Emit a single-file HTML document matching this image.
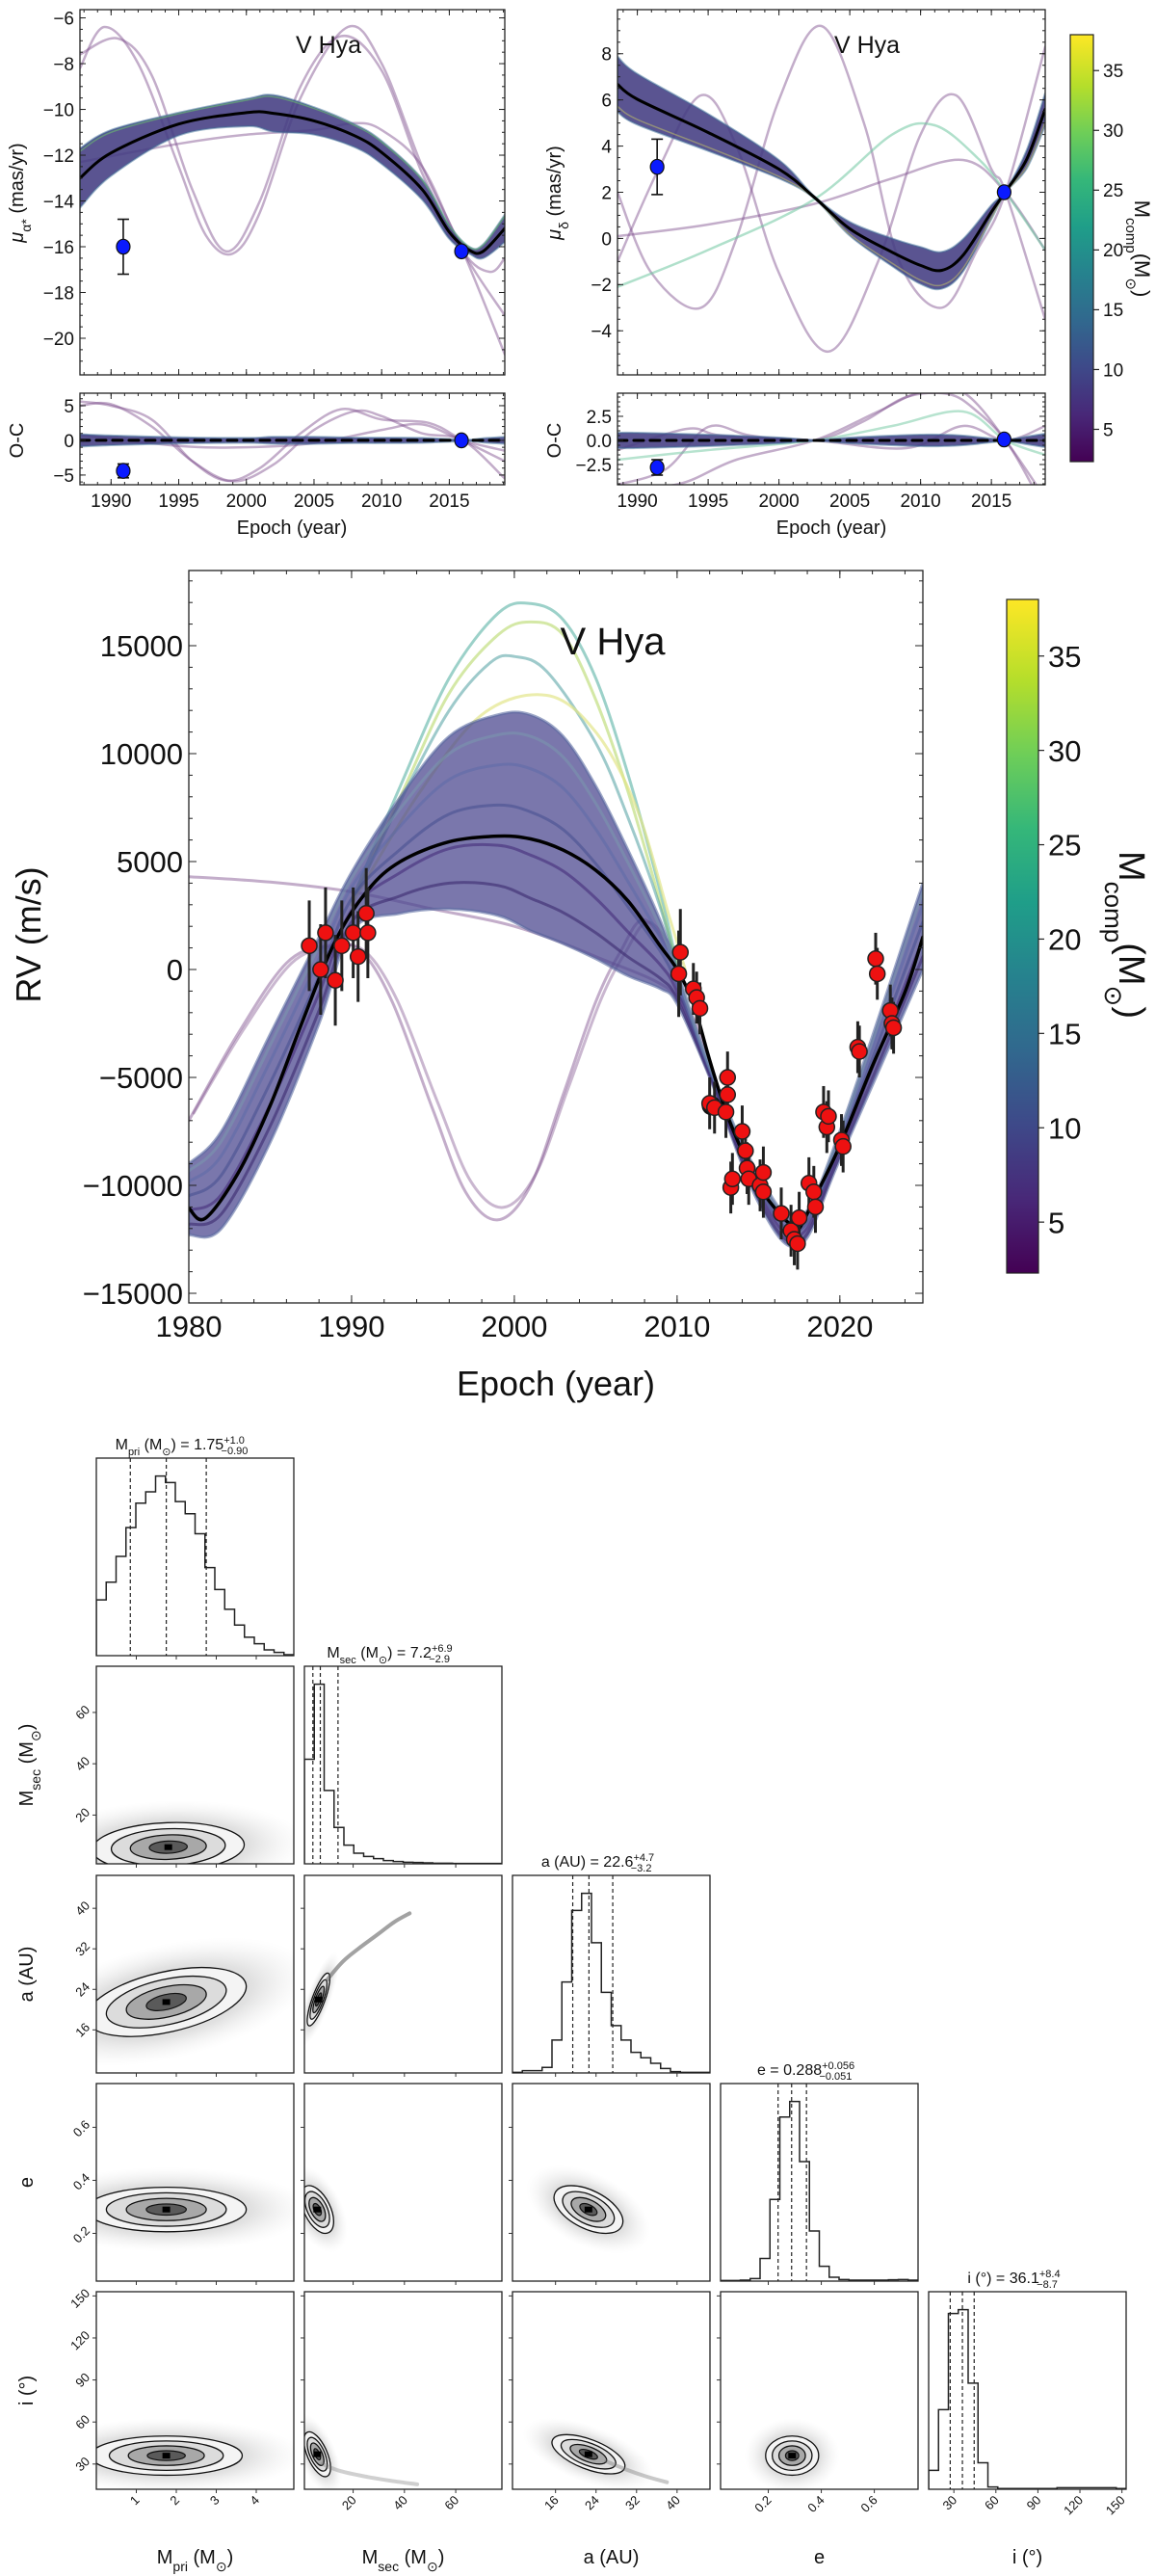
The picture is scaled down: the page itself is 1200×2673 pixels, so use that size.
<!DOCTYPE html>
<html><head><meta charset="utf-8"><title>V Hya orbit fit</title>
<style>
html,body{margin:0;padding:0;background:#fff;}
svg{display:block;font-family:"Liberation Sans",sans-serif;}
</style></head>
<body>
<svg id="fig" width="1200" height="2673" viewBox="0 0 1200 2673" xmlns="http://www.w3.org/2000/svg">
<defs>
<linearGradient id="viridis" x1="0" y1="1" x2="0" y2="0">
<stop offset="0" stop-color="#440154"/><stop offset="0.11" stop-color="#482878"/><stop offset="0.22" stop-color="#3e4989"/><stop offset="0.33" stop-color="#31688e"/><stop offset="0.44" stop-color="#26828e"/><stop offset="0.55" stop-color="#1f9e89"/><stop offset="0.66" stop-color="#35b779"/><stop offset="0.77" stop-color="#6ece58"/><stop offset="0.88" stop-color="#b5de2b"/><stop offset="1" stop-color="#fde725"/>
</linearGradient>
<radialGradient id="cloud"><stop offset="0" stop-color="#888" stop-opacity="0.6"/><stop offset="0.6" stop-color="#aaa" stop-opacity="0.35"/><stop offset="1" stop-color="#ddd" stop-opacity="0"/></radialGradient>
</defs>
</svg>
<script>
// ---------------- DATA: proper motion RA ----------------
const pmraYears=[1987.7,1990,1995,2000,2002,2005,2008,2010,2013,2015,2016.5,2017.5,2019.1];
const pmraBest=[-13.0,-11.9,-10.64,-10.14,-10.17,-10.5,-11.15,-11.88,-13.5,-15.36,-16.16,-16.2,-15.2];
const pmraSpread=[1.3,1.0,0.5,0.6,0.8,0.6,0.5,0.5,0.45,0.3,0.15,0.3,0.6];
const pmraOut1=[[1987.7,-8.2],[1989.5,-6.4],[1992,-8],[1995,-12.5],[1997,-15.5],[1999,-16.3],[2001,-14.5],[2004,-9.5],[2007.5,-6.4],[2010,-8],[2013,-12.5],[2016,-16.2],[2019.1,-20.7]];
const pmraOut2=[[1987.7,-7.6],[1990.5,-6.9],[1993,-8.5],[1996,-13.5],[1998.5,-16.2],[2001,-14],[2004,-9],[2007,-6.8],[2010,-8.3],[2013,-12.8],[2016,-16.2],[2018,-17.1],[2019.1,-16.5]];
const pmraOut3=[[1987.7,-12.3],[1995,-11.5],[2000,-11.1],[2005,-10.9],[2008,-10.6],[2010,-10.9],[2013,-12.5],[2016,-16.2],[2019.1,-19]];
const pmraHip=[1990.9,-16.0,1.2];
const pmraGaia=[2015.9,-16.2,0.05];
const ocraSpread=[0.9,0.7,0.45,0.35,0.5,0.5,0.4,0.4,0.35,0.2,0.1,0.3,0.5];
const ocraOut1=[[1987.7,5],[1990,5.2],[1993,2],[1996,-3],[1999,-5.9],[2002,-3.5],[2005,1.5],[2008,4.2],[2010,3.5],[2013,1],[2016,0],[2019.1,-5.5]];
const ocraOut2=[[1987.7,5.6],[1990,5],[1993,3],[1996,-3],[1998.5,-5.8],[2001,-4],[2004,1],[2007,4.5],[2010,3],[2013.5,2.5],[2016,0],[2019.1,-3]];
const ocraOut3=[[1987.7,0.8],[1995,-0.8],[2000,-1],[2005,-0.4],[2010,1.5],[2013,2.3],[2016,0],[2019.1,-1.5]];
const ocraHip=[1990.9,-4.4,1.0];
const ocraGaia=[2015.9,0.0,0.05];
// ---------------- DATA: proper motion Dec ----------------
const pmdecYears=[1988.6,1990,1995,2000,2002.5,2005,2008,2010,2011.5,2013,2015,2016,2017.5,2018.8];
const pmdecBest=[6.68,6.03,4.59,3.0,1.78,0.42,-0.6,-1.17,-1.38,-0.73,1.14,2.03,3.44,5.6];
const pmdecSpread=[1.2,1.1,0.8,0.4,0.05,0.3,0.6,0.8,0.8,0.7,0.3,0.05,0.4,0.7];
const pmdecOut1=[[1988.6,2],[1991,-1.5],[1994.5,-3],[1997,0],[2000,6],[2003,9.2],[2006,5],[2008.5,-1],[2011.5,-3],[2014,-0.5],[2016,2],[2018.8,8.3]];
const pmdecOut2=[[1988.6,-1],[1991.5,3],[1994.5,6.2],[1997,4],[2000,-1.5],[2003.5,-4.9],[2007,-1],[2010,4.5],[2012.5,6.2],[2015,3],[2016,2],[2018.8,-3.5]];
const pmdecOut3=[[1988.6,0.1],[1995,0.6],[2002.5,1.5],[2008,2.6],[2013,3.4],[2016,2],[2018.8,-0.5]];
const pmdecOut4=[[1988.6,-2.1],[1995,-0.5],[2002.5,1.7],[2008,4.5],[2011,4.9],[2014,3.5],[2016,2],[2018.8,-0.5]];
const pmdecHip=[1991.4,3.1,1.2];
const pmdecGaia=[2015.9,2.0,0.05];
const ocdecSpread=[0.8,0.8,0.6,0.3,0.05,0.3,0.5,0.6,0.6,0.5,0.2,0.05,0.4,0.7];
const ocdecOut1=[[1988.6,-4.6],[1992,-3],[1995,1.4],[1998,0.5],[2002.5,0],[2006,2],[2009,4.5],[2012,4.8],[2014,3],[2016,0],[2018.8,-6]];
const ocdecOut2=[[1988.6,-5],[1993,-4.5],[1997,-2],[2002.5,0],[2007,3],[2010,5],[2013,5],[2016,0],[2018,-5]];
const ocdecOut3=[[1988.6,-2],[1995,-1],[2002.5,0],[2008,1.5],[2013,3],[2016,0],[2018.8,-1.5]];
const ocdecOut4=[[1988.6,-1],[1993.5,1.2],[1996,0.5],[2002.5,0],[2009,-0.8],[2013,1.5],[2016,0],[2018.8,1.5]];
const ocdecHip=[1991.4,-2.8,0.8];
const ocdecGaia=[2015.9,0.1,0.05];
// ---------------- DATA: RV ----------------
const rvBestYears=[1980,1981,1983,1985,1987,1989,1991,1993,1996,1999,2001,2003,2005,2007,2009,2010,2011,2012,2013,2014,2015,2016,2017,2017.5,2018.5,2020,2022,2024,2025.1];
const rvBest=[-11050,-11530,-9470,-6300,-2370,1320,3680,5000,5920,6180,6050,5530,4600,3160,1050,0,-1580,-4200,-6580,-8420,-10000,-11050,-11840,-12000,-10500,-8160,-4470,-1050,1500];
const rvEnvYears=[1980,1982,1985,1988,1990,1993,1996,1999,2001,2003,2005,2007,2009,2010,2012,2015,2017.5,2020,2025.1];
const rvUpper=[-9000,-7500,-3000,1500,4500,8000,10800,11800,11800,10800,8500,5500,2200,0,-4500,-9500,-11500,-7500,4000];
const rvLower=[-12300,-12000,-8000,-2500,1800,2600,2800,2500,1800,1200,500,-300,-900,-1600,-5000,-10800,-12800,-8800,0];
const rvHi1=[[1990,3200],[1993,8500],[1996,13500],[1999,16500],[2001,16950],[2003,16200],[2005,13500],[2007,9000],[2009,3500],[2010,200]];
const rvHi2=[[1990,3100],[1993,8000],[1996,12800],[1999,15500],[2001,16100],[2003,15500],[2005,12500],[2007,8200],[2009,3000],[2010,100]];
const rvHi3=[[1990,3000],[1993,7800],[1996,12000],[1998.5,14200],[2000,14500],[2002,13800],[2005,10500],[2007,7000],[2009,2800],[2010,0]];
const rvHi4=[[1990,3000],[1994,8000],[1998,11800],[2002,12700],[2005,11000],[2007.5,7500],[2009.5,2500],[2010.5,0]];
const rvLowWave=[[1980,-7000],[1983,-3000],[1986,300],[1988.5,1100],[1990.5,900],[1992.5,-1500],[1995,-6500],[1997,-10300],[1999,-11600],[2001,-10000],[2003,-5800],[2005,-1500],[2006.5,800],[2008,2300],[2010,300]];
const rvFlat=[[1980,4300],[1985,4050],[1990,3600],[1995,2800],[2000,2000],[2005,600],[2010,-1200],[2012,-4200]];
const rvEpochs=[1987.4,1988.1,1988.4,1989.0,1989.4,1990.1,1990.4,1990.9,1991.0,2010.1,2010.2,2011.0,2011.2,2011.4,2012.0,2012.3,2013.1,2013.1,2013.0,2013.3,2013.4,2014.0,2014.2,2014.3,2014.4,2015.1,2015.3,2015.3,2016.4,2017.0,2017.2,2017.4,2017.5,2018.1,2018.4,2018.5,2019.0,2019.2,2019.3,2020.1,2020.2,2021.1,2021.2,2022.2,2022.3,2023.1,2023.2,2023.3];
const rvValues=[1100,0,1700,-500,1100,1700,600,2600,1700,-200,800,-900,-1300,-1800,-6200,-6400,-5000,-5800,-6600,-10100,-9700,-7500,-8400,-9200,-9700,-10000,-9400,-10300,-11300,-12100,-12500,-12700,-11500,-9900,-10300,-11000,-6600,-7300,-6800,-7900,-8200,-3600,-3800,500,-200,-1900,-2500,-2700];
const rvErrors=[2100,2100,2100,2100,2100,2100,2100,2100,2100,2000,2000,1200,1200,1200,1200,1200,1200,1200,1200,1200,1200,1200,1200,1200,1200,1200,1200,1200,1200,1200,1200,1200,1200,1200,1200,1200,1200,1200,1200,1200,1200,1200,1200,1200,1200,1200,1200,1200];
// ---------------- DATA: corner ----------------
const cornerParams=["Mpri","Msec","a","e","i"];
const cornerRanges=[[0,4.94],[1,78],[7.5,46.5],[0.02,0.765],[12,153]];
const cornerTicks=[[1,2,3,4],[20,40,60],[16,24,32,40],[0.2,0.4,0.6],[30,60,90,120,150]];
const cornerTickLabels=[["1","2","3","4"],["20","40","60"],["16","24","32","40"],["0.2","0.4","0.6"],["30","60","90","120","150"]];
const histMpri=[173,228,308,397,473,508,557,537,478,440,378,273,205,144,95,57,37,18,10,3];
const histMsec=[325,558,228,113,58,33,23,16,10,7,5,4,3,2,2,1,1,1,1,1];
const histA=[2,7,7,17,102,282,504,557,404,250,147,102,64,47,30,14,4,2,2,2];
const histE=[2,2,3,8,70,253,508,556,370,155,46,12,5,3,3,3,3,4,5,3];
const histI=[25,105,232,237,140,35,3,1,1,1,1,1,1,2,2,2,2,2,2,1];
const quantMpri=[0.85,1.75,2.75];
const quantMsec=[4.3,7.2,14.1];
const quantA=[19.4,22.6,27.3];
const quantE=[0.237,0.288,0.344];
const quantI=[27.4,36.1,44.5];
// 2D panels: [col, row, centerX, centerY, sigmaX, sigmaY, rho]
const pairMpriMsec=[0,1,1.8,7.5,0.95,4.8,0.1];
const pairMpriA=[0,2,1.75,21.5,1.0,3.4,0.45];
const pairMsecA=[1,2,6.5,22,2.2,2.6,0.8];
const pairMpriE=[0,3,1.75,0.29,1.0,0.042,0];
const pairMsecE=[1,3,6,0.29,3.2,0.045,-0.5];
const pairAE=[2,3,22.5,0.29,3.4,0.045,-0.5];
const pairMpriI=[0,4,1.75,36,0.95,7,0];
const pairMsecI=[1,4,6,37,2.6,8,-0.6];
const pairAI=[2,4,22.5,37,3.6,7,-0.6];
const pairEI=[3,4,0.29,36,0.05,7,0];
const ridgeMsecA=[[10,26],[16,29.5],[22,32],[30,35],[36,37.3],[42,39]];
const tailMsecI=[[8,30],[15,25],[25,21],[35,18],[45,15.5]];
const tailAI=[[26,32],[30,26],[34,21],[38,17]];
</script>
<script>
const NS="http://www.w3.org/2000/svg";
const svg=document.getElementById("fig");
const FONT='"Liberation Sans", sans-serif';
function mk(tag,attrs,name,parent){
  const e=document.createElementNS(NS,tag);
  for(const k in attrs)e.setAttribute(k,attrs[k]);
  
  
  (parent||svg).appendChild(e);
  return e;
}
function smooth(p){
  if(p.length<2)return "";
  let d=`M${p[0][0].toFixed(1)},${p[0][1].toFixed(1)}`;
  for(let i=0;i<p.length-1;i++){
    const p0=p[i-1]||p[i],p1=p[i],p2=p[i+1],p3=p[i+2]||p[i+1];
    const c1=[p1[0]+(p2[0]-p0[0])/6,p1[1]+(p2[1]-p0[1])/6];
    const c2=[p2[0]-(p3[0]-p1[0])/6,p2[1]-(p3[1]-p1[1])/6];
    d+=`C${c1[0].toFixed(1)},${c1[1].toFixed(1)} ${c2[0].toFixed(1)},${c2[1].toFixed(1)} ${p2[0].toFixed(1)},${p2[1].toFixed(1)}`;
  }
  return d;
}
let clipN=0;
function panel(x,y,w,h,xd,yd,name){
  const P={x,y,w,h};
  P.X=v=>x+(v-xd[0])/(xd[1]-xd[0])*w;
  P.Y=v=>y+h-(v-yd[0])/(yd[1]-yd[0])*h;
  const id="clip"+(clipN++);
  const cp=mk("clipPath",{id},name+"-clip");
  mk("rect",{x,y,width:w,height:h},name+"-clip-rect",cp);
  P.g=mk("g",{"clip-path":`url(#${id})`},name+"-plot-area");
  P.frame=()=>mk("rect",{x,y,width:w,height:h,fill:"none",stroke:"#222","stroke-width":1.3},name+"-frame");
  return P;
}
function text(x,y,str,size,anchor,name,extra){
  const t=mk("text",Object.assign({x,y,"font-size":size,"text-anchor":anchor||"middle",fill:"#111","font-family":FONT},extra||{}),name);
  t.innerHTML=str;
  return t;
}
function inTicks(P,xd,xMaj,xMin,yMaj,yMin,L,l,name){
  const g=mk("g",{stroke:"#222","stroke-width":1},name+"-ticks");
  const tk=(x1,y1,x2,y2,n)=>mk("line",{x1,y1,x2,y2},n,g);
  xMaj.forEach(t=>{const X=P.X(t);tk(X,P.y+P.h,X,P.y+P.h-L,name+"-x-major-tick");tk(X,P.y,X,P.y+L,name+"-x-major-tick-top");});
  xMin.forEach(t=>{const X=P.X(t);tk(X,P.y+P.h,X,P.y+P.h-l,name+"-x-minor-tick");tk(X,P.y,X,P.y+l,name+"-x-minor-tick-top");});
  yMaj.forEach(t=>{const Y=P.Y(t);tk(P.x,Y,P.x+L,Y,name+"-y-major-tick");tk(P.x+P.w,Y,P.x+P.w-L,Y,name+"-y-major-tick-right");});
  yMin.forEach(t=>{const Y=P.Y(t);tk(P.x,Y,P.x+l,Y,name+"-y-minor-tick");tk(P.x+P.w,Y,P.x+P.w-l,Y,name+"-y-minor-tick-right");});
}
function range(a,b,s){const r=[];for(let v=a;v<=b+1e-9;v+=s)r.push(+v.toFixed(6));return r;}
function band(P,years,center,half,name,fill){
  const up=years.map((t,i)=>[P.X(t),P.Y(center[i]+half[i])]);
  const lo=years.map((t,i)=>[P.X(t),P.Y(center[i]-half[i])]).reverse();
  const d=smooth(up)+"L"+smooth(lo).slice(1)+"Z";
  mk("path",{d,fill:fill||"#433c82","fill-opacity":0.88,stroke:"#3d6f98","stroke-opacity":0.5,"stroke-width":2},name,P.g);
}
function curve(P,pts,color,width,op,name,dash){
  const a={d:smooth(pts.map(q=>[P.X(q[0]),P.Y(q[1])])),fill:"none",stroke:color,"stroke-width":width,"stroke-opacity":op,"stroke-linecap":"round"};
  if(dash)a["stroke-dasharray"]=dash;
  mk("path",a,name,P.g);
}
function errPoint(P,d,r,fill,name,cap){
  const X=P.X(d[0]);
  if(d[2]>0.1){
    mk("line",{x1:X,y1:P.Y(d[1]-d[2]),x2:X,y2:P.Y(d[1]+d[2]),stroke:"#111","stroke-width":1.6},name+"-errorbar",P.g);
    if(cap){mk("line",{x1:X-6,y1:P.Y(d[1]-d[2]),x2:X+6,y2:P.Y(d[1]-d[2]),stroke:"#111","stroke-width":1.6},name+"-cap-low",P.g);
    mk("line",{x1:X-6,y1:P.Y(d[1]+d[2]),x2:X+6,y2:P.Y(d[1]+d[2]),stroke:"#111","stroke-width":1.6},name+"-cap-high",P.g);}
  }
  mk("ellipse",{cx:X,cy:P.Y(d[1]),rx:r,ry:r*1.1,fill,stroke:"#111","stroke-width":1.2},name,P.g);
}
function colorbar(x,y,w,h,fs,name){
  mk("rect",{x,y,width:w,height:h,fill:"url(#viridis)",stroke:"#222","stroke-width":1.2},name);
  const dom=[2.3,38];
  [5,10,15,20,25,30,35].forEach(t=>{
    const Y=y+h-(t-dom[0])/(dom[1]-dom[0])*h;
    mk("line",{x1:x+w,y1:Y,x2:x+w+6,y2:Y,stroke:"#222","stroke-width":1.2},name+"-tick");
    text(x+w+10,Y+fs*0.36,String(t),fs,"start",name+"-tick-label");
  });
}
function yearLabels(P,ticks,fs,name){ticks.forEach(t=>text(P.X(t),P.y+P.h+fs+4,String(t),fs,"middle",name+"-x-tick-label"));}
function valLabels(P,ticks,labels,fs,name){ticks.forEach((t,i)=>text(P.x-6,P.Y(t)+fs*0.36,labels[i],fs,"end",name+"-y-tick-label"));}

const OUTC="#7a4a8a";
// ===== Top left: pmra =====
{
  const xd=[1987.7,2019.1];
  const P=panel(83,10,441,379,xd,[-21.6,-5.64],"pmra-panel");
  curve(P,pmraOut1,OUTC,2.5,0.45,"pmra-outlier-orbit");
  curve(P,pmraOut2,OUTC,2.5,0.45,"pmra-outlier-orbit");
  curve(P,pmraOut3,OUTC,2.5,0.45,"pmra-outlier-orbit");
  band(P,pmraYears,pmraBest,pmraSpread,"pmra-orbit-band");
  curve(P,pmraYears.map((t,i)=>[t,pmraBest[i]+pmraSpread[i]*0.9]),"#6ccf6a",1.5,0.5,"pmra-high-mass-orbit");
  curve(P,pmraYears.map((t,i)=>[t,pmraBest[i]]),"#000",3,1,"pmra-best-orbit");
  errPoint(P,pmraHip,7,"#0a1aff","pmra-hipparcos-point",true);
  errPoint(P,pmraGaia,7,"#0a1aff","pmra-gaia-point",false);
  P.frame();
  inTicks(P,xd,range(1990,2015,5),range(1988,2019,1),range(-20,-6,2),range(-21,-6,0.5),6,3,"pmra");
  valLabels(P,[-20,-18,-16,-14,-12,-10,-8,-6],["−20","−18","−16","−14","−12","−10","−8","−6"],19,"pmra");
  text(341,55,"V Hya",25,"middle","pmra-title");
  text(0,0,'<tspan font-style="italic">μ</tspan><tspan baseline-shift="sub" font-size="14">α*</tspan>  (mas/yr)',20,"middle","pmra-y-axis-title",{transform:"translate(24,200) rotate(-90)"});
  const O=panel(83,408,441,95,xd,[-6.4,6.8],"oc-ra-panel");
  curve(O,ocraOut1,OUTC,2.5,0.45,"oc-ra-outlier");
  curve(O,ocraOut2,OUTC,2.5,0.45,"oc-ra-outlier");
  curve(O,ocraOut3,OUTC,2.5,0.45,"oc-ra-outlier");
  band(O,pmraYears,pmraYears.map(()=>0),ocraSpread,"oc-ra-band");
  curve(O,[[1987.7,0],[2019.1,0]],"#000",3,1,"oc-ra-zero-line","10,7");
  errPoint(O,ocraHip,7,"#0a1aff","oc-ra-hipparcos-point",true);
  errPoint(O,ocraGaia,7,"#0a1aff","oc-ra-gaia-point",false);
  O.frame();
  inTicks(O,xd,range(1990,2015,5),range(1988,2019,1),[-5,0,5],range(-6,6,1),6,3,"oc-ra");
  valLabels(O,[-5,0,5],["−5","0","5"],19,"oc-ra");
  yearLabels(O,[1990,1995,2000,2005,2010,2015],19,"oc-ra");
  text(0,0,"O-C",20,"middle","oc-ra-y-axis-title",{transform:"translate(24,457) rotate(-90)"});
  text(303,554,"Epoch (year)",20,"middle","oc-ra-x-axis-title");
}
// ===== Top right: pmdec =====
{
  const xd=[1988.6,2018.8];
  const P=panel(641,10,444,379,xd,[-5.91,9.91],"pmdec-panel");
  curve(P,pmdecOut1,OUTC,2.5,0.45,"pmdec-outlier-orbit");
  curve(P,pmdecOut2,OUTC,2.5,0.45,"pmdec-outlier-orbit");
  curve(P,pmdecOut3,OUTC,2.5,0.45,"pmdec-outlier-orbit");
  curve(P,pmdecOut4,"#6fc7a0",2.5,0.55,"pmdec-outlier-orbit");
  band(P,pmdecYears,pmdecBest,pmdecSpread,"pmdec-orbit-band");
  curve(P,pmdecYears.map((t,i)=>[t,pmdecBest[i]-pmdecSpread[i]*0.8]),"#b5b56a",1.5,0.6,"pmdec-high-mass-orbit");
  curve(P,pmdecYears.map((t,i)=>[t,pmdecBest[i]]),"#000",3,1,"pmdec-best-orbit");
  errPoint(P,pmdecHip,7,"#0a1aff","pmdec-hipparcos-point",true);
  errPoint(P,pmdecGaia,7,"#0a1aff","pmdec-gaia-point",false);
  P.frame();
  inTicks(P,xd,range(1990,2015,5),range(1989,2018,1),range(-4,8,2),range(-5.5,9.5,0.5),6,3,"pmdec");
  valLabels(P,[-4,-2,0,2,4,6,8],["−4","−2","0","2","4","6","8"],19,"pmdec");
  text(900,55,"V Hya",25,"middle","pmdec-title");
  text(0,0,'<tspan font-style="italic">μ</tspan><tspan baseline-shift="sub" font-size="14">δ</tspan>  (mas/yr)',20,"middle","pmdec-y-axis-title",{transform:"translate(582,200) rotate(-90)"});
  const O=panel(641,408,444,95,xd,[-4.6,4.9],"oc-dec-panel");
  curve(O,ocdecOut1,OUTC,2.5,0.45,"oc-dec-outlier");
  curve(O,ocdecOut2,OUTC,2.5,0.45,"oc-dec-outlier");
  curve(O,ocdecOut3,"#6fc7a0",2.5,0.5,"oc-dec-outlier");
  curve(O,ocdecOut4,OUTC,2.5,0.45,"oc-dec-outlier");
  band(O,pmdecYears,pmdecYears.map(()=>0),ocdecSpread,"oc-dec-band");
  curve(O,[[1988.6,0],[2018.8,0]],"#000",3,1,"oc-dec-zero-line","10,7");
  errPoint(O,ocdecHip,7,"#0a1aff","oc-dec-hipparcos-point",true);
  errPoint(O,ocdecGaia,7,"#0a1aff","oc-dec-gaia-point",false);
  O.frame();
  inTicks(O,xd,range(1990,2015,5),range(1989,2018,1),[-2.5,0,2.5],range(-4.5,4.5,0.5),6,3,"oc-dec");
  valLabels(O,[-2.5,0,2.5],["−2.5","0.0","2.5"],19,"oc-dec");
  yearLabels(O,[1990,1995,2000,2005,2010,2015],19,"oc-dec");
  text(0,0,"O-C",20,"middle","oc-dec-y-axis-title",{transform:"translate(582,457) rotate(-90)"});
  text(863,554,"Epoch (year)",20,"middle","oc-dec-x-axis-title");
  colorbar(1111,36,24,443,19,"pm-colorbar");
  text(0,0,'M<tspan baseline-shift="sub" font-size="15">comp</tspan>(M<tspan baseline-shift="sub" font-size="15">⊙</tspan>)',22,"middle","pm-colorbar-label",{transform:"translate(1178,258) rotate(90)"});
}
// ===== RV =====
{
  const xd=[1980,2025.1];
  const P=panel(196,592,762,760,xd,[-15446,18482],"rv-panel");
  curve(P,rvLowWave,OUTC,3,0.45,"rv-outlier-orbit");
  curve(P,rvLowWave.map(q=>[q[0]+0.3,q[1]*0.95]),OUTC,3,0.4,"rv-outlier-orbit");
  curve(P,rvFlat,OUTC,3,0.45,"rv-outlier-orbit");
  curve(P,rvHi1,"#5ab3a5",3,0.6,"rv-high-mass-orbit");
  curve(P,rvHi2,"#b8d86a",3,0.6,"rv-high-mass-orbit");
  curve(P,rvHi3,"#4e9ea0",3,0.55,"rv-high-mass-orbit");
  curve(P,rvHi4,"#e3e68a",3,0.7,"rv-high-mass-orbit");
  const up=rvEnvYears.map((t,i)=>[P.X(t),P.Y(rvUpper[i])]);
  const lo=rvEnvYears.map((t,i)=>[P.X(t),P.Y(rvLower[i])]).reverse();
  mk("path",{d:smooth(up)+"L"+smooth(lo).slice(1)+"Z",fill:"#4e4a90","fill-opacity":0.75,stroke:"#5a6aa0","stroke-opacity":0.6,"stroke-width":3},"rv-orbit-band",P.g);
  [[0.15,"#3a2a6e",0.6],[0.35,"#452d7a",0.6],[0.55,"#3e4a8c",0.5],[0.75,"#5a6aa8",0.5],[0.9,"#7aa0b0",0.45]].forEach(([w,col,op])=>
    curve(P,rvEnvYears.map((t,i)=>[t,(rvUpper[i]*w+rvLower[i]*(1-w))]),col,3,op,"rv-orbit-sample"));
  curve(P,rvBestYears.map((t,i)=>[t,rvBest[i]]),"#000",3.5,1,"rv-best-orbit");
  rvEpochs.forEach((t,i)=>{
    const X=P.X(t);
    mk("line",{x1:X,y1:P.Y(rvValues[i]-rvErrors[i]),x2:X,y2:P.Y(rvValues[i]+rvErrors[i]),stroke:"#222","stroke-width":3},"rv-errorbar",P.g);
  });
  mk("circle",{cx:P.X(2012.1),cy:P.Y(-6300),r:10,fill:"#111"},"rv-highlight-point",P.g);
  rvEpochs.forEach((t,i)=>{
    mk("circle",{cx:P.X(t),cy:P.Y(rvValues[i]),r:8,fill:"#ee1111",stroke:"#222","stroke-width":1.5},"rv-data-point",P.g);
  });
  P.frame();
  inTicks(P,xd,[1980,1990,2000,2010,2020],range(1980,2024,2),range(-15000,15000,5000),range(-15000,18000,1000),8,4,"rv");
  valLabels(P,[-15000,-10000,-5000,0,5000,10000,15000],["−15000","−10000","−5000","0","5000","10000","15000"],31,"rv");
  yearLabels(P,[1980,1990,2000,2010,2020],31,"rv");
  text(636,679,"V Hya",40,"middle","rv-title");
  text(0,0,"RV (m/s)",36,"middle","rv-y-axis-title",{transform:"translate(42,970) rotate(-90)"});
  text(577,1448,"Epoch (year)",36,"middle","rv-x-axis-title");
  colorbar(1045,622,33,699,31,"rv-colorbar");
  text(0,0,'M<tspan baseline-shift="sub" font-size="26">comp</tspan>(M<tspan baseline-shift="sub" font-size="26">⊙</tspan>)',38,"middle","rv-colorbar-label",{transform:"translate(1162,970) rotate(90)"});
}
// ===== Corner plot =====
{
  const colX=[100,316,532,748,964], rowY=[1513,1729,1946,2162,2378], S=205;
  const hists=[histMpri,histMsec,histA,histE,histI];
  const quants=[quantMpri,quantMsec,quantA,quantE,quantI];
  const titles=[
    ['M<tspan baseline-shift="sub" font-size="11">pri</tspan> (M<tspan baseline-shift="sub" font-size="11">⊙</tspan>) = 1.75','+1.0','−0.90'],
    ['M<tspan baseline-shift="sub" font-size="11">sec</tspan> (M<tspan baseline-shift="sub" font-size="11">⊙</tspan>) = 7.2','+6.9','−2.9'],
    ['a (AU) = 22.6','+4.7','−3.2'],
    ['e = 0.288','+0.056','−0.051'],
    ['i (°) = 36.1','+8.4','−8.7']];
  const axisLabels=['M<tspan baseline-shift="sub" font-size="14">pri</tspan> (M<tspan baseline-shift="sub" font-size="14">⊙</tspan>)','M<tspan baseline-shift="sub" font-size="14">sec</tspan> (M<tspan baseline-shift="sub" font-size="14">⊙</tspan>)','a (AU)','e','i (°)'];
  const outTicks=(P,c,r,showX,showY,name)=>{
    cornerTicks[c].forEach((t,k)=>{
      const X=P.X(t);
      mk("line",{x1:X,y1:P.y+S,x2:X,y2:P.y+S+4,stroke:"#333"},name+"-x-tick");
      if(showX) text(0,0,cornerTickLabels[c][k],13,"end",name+"-x-tick-label",{transform:`translate(${X+4},${P.y+S+12}) rotate(-45)`});
    });
    if(r!==null){
      cornerTicks[r].forEach((t,k)=>{
        const Y=P.Y(t);
        if(Y<P.y||Y>P.y+S)return;
        mk("line",{x1:P.x,y1:Y,x2:P.x-4,y2:Y,stroke:"#333"},name+"-y-tick");
        if(showY) text(0,0,cornerTickLabels[r][k],13,"end",name+"-y-tick-label",{transform:`translate(${P.x-6},${Y-2}) rotate(-45)`});
      });
    }
  };
  for(let c=0;c<5;c++){
    const rg=cornerRanges[c], hv=hists[c];
    const mx=Math.max(...hv)*1.1;
    const P=panel(colX[c],rowY[c],S,S,rg,[0,mx],"hist-"+cornerParams[c]);
    const n=hv.length, bw=S/n;
    let d=`M${P.x},${P.Y(0)}`;
    hv.forEach((v,k)=>{d+=`L${P.x+k*bw},${P.Y(v)}L${P.x+(k+1)*bw},${P.Y(v)}`;});
    d+=`L${P.x+S},${P.Y(0)}`;
    mk("path",{d,fill:"none",stroke:"#222","stroke-width":1.5},"histogram-"+cornerParams[c],P.g);
    quants[c].forEach(q=>mk("line",{x1:P.X(q),y1:P.y,x2:P.X(q),y2:P.y+S,stroke:"#222","stroke-width":1.2,"stroke-dasharray":"4,3"},"quantile-line-"+cornerParams[c],P.g));
    P.frame();
    outTicks(P,c,null,c===4,false,"hist-"+cornerParams[c]);
    const t=titles[c];
    const tt=text(colX[c]+S/2-14,rowY[c]-9,t[0],16,"middle","title-"+cornerParams[c]);
    const sp=document.createElementNS(NS,"tspan");
    
    
    sp.setAttribute("font-size","11");sp.setAttribute("dy","-6");sp.textContent=t[1];tt.appendChild(sp);
    const sb=document.createElementNS(NS,"tspan");
    
    
    sb.setAttribute("font-size","11");sb.setAttribute("dy","11");sb.setAttribute("dx",String(-t[1].length*6.1));sb.textContent=t[2];tt.appendChild(sb);
  }
  const pairs=[pairMpriMsec,pairMpriA,pairMsecA,pairMpriE,pairMsecE,pairAE,pairMpriI,pairMsecI,pairAI,pairEI];
  pairs.forEach(pp=>{
    const [c,r,cx,cy,sx,sy,rho]=pp;
    const nm="density-"+cornerParams[c]+"-vs-"+cornerParams[r];
    const P=panel(colX[c],rowY[r],S,S,cornerRanges[c],cornerRanges[r],nm);
    const kx=S/(cornerRanges[c][1]-cornerRanges[c][0]), ky=S/(cornerRanges[r][1]-cornerRanges[r][0]);
    const a=(sx*kx)**2, b=(sy*ky)**2, cxy=-rho*sx*sy*kx*ky;
    const tr=(a+b)/2, det=Math.sqrt(((a-b)/2)**2+cxy*cxy);
    const l1=tr+det, l2=Math.max(tr-det,1);
    const ang=Math.atan2(l1-a,cxy||1e-9)*180/Math.PI;
    const ang2=Math.abs(cxy)<1e-6?(a>=b?0:90):ang;
    const X=P.X(cx), Y=P.Y(cy);
    const r1=Math.sqrt(l1), r2=Math.sqrt(l2);
    mk("ellipse",{cx:X,cy:Y,rx:r1*3.6,ry:r2*3.8,fill:"url(#cloud)",transform:`rotate(${ang2} ${X} ${Y})`},nm+"-scatter-cloud",P.g);
    const levels=[[2,"#f4f4f4"],[1.5,"#dcdcdc"],[1,"#a8a8a8"],[0.5,"#5a5a5a"]];
    levels.forEach(([s,f])=>mk("ellipse",{cx:X,cy:Y,rx:r1*s,ry:r2*s,fill:f,stroke:s<0.6?"none":"#111","stroke-width":1.3,transform:`rotate(${ang2} ${X} ${Y})`},nm+"-contour",P.g));
    mk("ellipse",{cx:X,cy:Y,rx:r1*0.5,ry:r2*0.5,fill:"none",stroke:"#111","stroke-width":1.2,transform:`rotate(${ang2} ${X} ${Y})`},nm+"-inner-contour",P.g);
    mk("rect",{x:X-4,y:Y-3,width:8,height:6,fill:"#000"},nm+"-peak",P.g);
    if(c===1&&r===2) curve(P,ridgeMsecA,"#555",4,0.55,"msec-a-ridge");
    if(c===1&&r===4) curve(P,tailMsecI,"#777",4,0.35,"msec-i-tail");
    if(c===2&&r===4) curve(P,tailAI,"#777",4,0.4,"a-i-tail");
    P.frame();
    outTicks(P,c,r,r===4,c===0,nm);
  });
  for(let k=0;k<5;k++){
    text(colX[k]+S/2,2660,axisLabels[k],20,"middle","x-axis-title-"+cornerParams[k]);
    if(k>0) text(0,0,axisLabels[k],20,"middle","y-axis-title-"+cornerParams[k],{transform:`translate(34,${rowY[k]+S/2}) rotate(-90)`});
  }
}
</script>
</body></html>
